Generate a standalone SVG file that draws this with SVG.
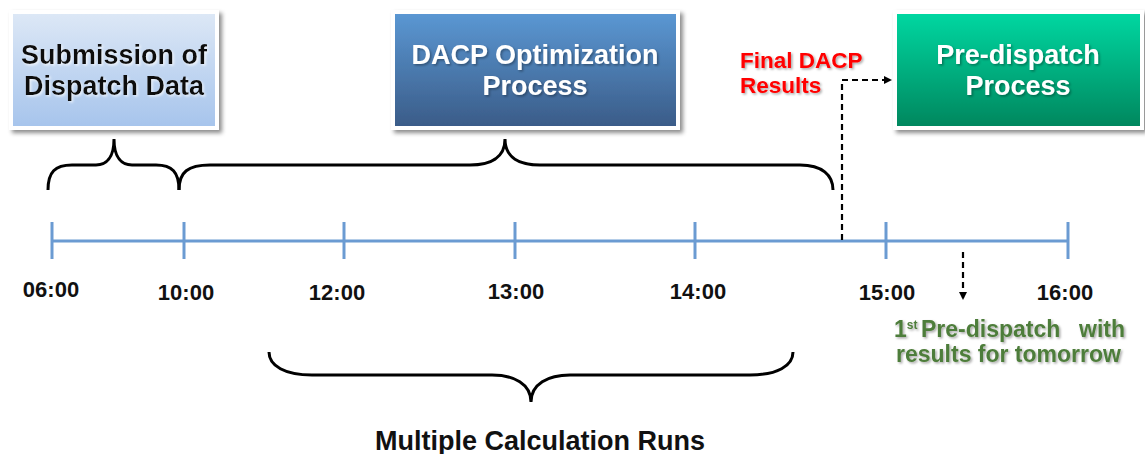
<svg xmlns="http://www.w3.org/2000/svg" width="1145" height="454" viewBox="0 0 1145 454">
<style>
  text { font-family: "Liberation Sans", Arial, sans-serif; font-weight: bold; }
  .box { stroke: #ffffff; stroke-width: 4; filter: url(#shadow); }
  .title { font-size: 27px; text-anchor: middle; }
  .dark { fill: #111111; filter: url(#tshadowLight); }
  .light { fill: #ffffff; filter: url(#tshadowDark); }
  .time { font-size: 22px; text-anchor: middle; fill: #111111; }
  .axis { stroke: #6b9bd2; stroke-width: 3; fill: none; }
  .brace { stroke: #000000; stroke-width: 3; fill: none; }
  .dash { stroke: #000000; stroke-width: 2.2; fill: none; stroke-dasharray: 6 4; }
  .red { font-size: 22.5px; fill: #ff0000; filter: url(#tshadowDark); }
  .green { font-size: 23px; fill: #4e7d3a; filter: url(#tshadowDark); }
  .runs { font-size: 27px; text-anchor: middle; fill: #111111; }
</style>
<defs>
  <linearGradient id="gBlueLight" x1="0" y1="0" x2="0" y2="1">
    <stop offset="0" stop-color="#dde8f6"/>
    <stop offset="1" stop-color="#a6c4ec"/>
  </linearGradient>
  <linearGradient id="gBlueDark" x1="0" y1="0" x2="0" y2="1">
    <stop offset="0" stop-color="#5b98d4"/>
    <stop offset="1" stop-color="#3a5b87"/>
  </linearGradient>
  <linearGradient id="gGreen" x1="0" y1="0" x2="0" y2="1">
    <stop offset="0" stop-color="#00d8a2"/>
    <stop offset="1" stop-color="#00865d"/>
  </linearGradient>
  <filter id="shadow" x="-10%" y="-10%" width="125%" height="130%">
    <feDropShadow dx="3" dy="3" stdDeviation="2" flood-color="#000000" flood-opacity="0.45"/>
  </filter>
  <filter id="tshadowDark" x="-5%" y="-20%" width="115%" height="150%">
    <feDropShadow dx="1.5" dy="1.5" stdDeviation="0.8" flood-color="#000000" flood-opacity="0.35"/>
  </filter>
  <filter id="tshadowLight" x="-5%" y="-20%" width="115%" height="150%">
    <feDropShadow dx="1.5" dy="1.5" stdDeviation="0.8" flood-color="#ffffff" flood-opacity="0.7"/>
  </filter>
  <marker id="arrow" viewBox="0 0 10 10" refX="10" refY="5" markerWidth="9" markerHeight="8" orient="auto" markerUnits="userSpaceOnUse">
    <path d="M0,0 L10,5 L0,10 z" fill="#000000"/>
  </marker>
</defs>

<g id="node-submission">
  <rect class="box" x="11" y="12" width="206" height="116" fill="url(#gBlueLight)"/>
  <text class="title dark" x="114" y="64">Submission of</text>
  <text class="title dark" x="114" y="95">Dispatch Data</text>
</g>

<g id="node-dacp">
  <rect class="box" x="393" y="12" width="285" height="116" fill="url(#gBlueDark)"/>
  <text class="title light" x="535" y="64">DACP Optimization</text>
  <text class="title light" x="535" y="95">Process</text>
</g>

<g id="node-predispatch">
  <rect class="box" x="895" y="12" width="247" height="116" fill="url(#gGreen)"/>
  <text class="title light" x="1018" y="64">Pre-dispatch</text>
  <text class="title light" x="1018" y="95">Process</text>
</g>

<g id="timeline">
  <line class="axis" x1="52" y1="241" x2="1068" y2="241"/>
  <line class="axis" x1="52" y1="222" x2="52" y2="259"/>
  <line class="axis" x1="184" y1="222" x2="184" y2="259"/>
  <line class="axis" x1="344" y1="222" x2="344" y2="259"/>
  <line class="axis" x1="515" y1="222" x2="515" y2="259"/>
  <line class="axis" x1="695" y1="222" x2="695" y2="259"/>
  <line class="axis" x1="886" y1="222" x2="886" y2="259"/>
  <line class="axis" x1="1068" y1="222" x2="1068" y2="259"/>
  <text class="time" x="51" y="297">06:00</text>
  <text class="time" x="186" y="300">10:00</text>
  <text class="time" x="337" y="300">12:00</text>
  <text class="time" x="516" y="299">13:00</text>
  <text class="time" x="698" y="299">14:00</text>
  <text class="time" x="887" y="300">15:00</text>
  <text class="time" x="1065" y="300">16:00</text>
</g>

<g id="braces">
  <path class="brace" d="M48,190 C48,172 55,165 72,165 L96,165 C106,165 114,158 114,139 C114,158 122,165 132,165 L156,165 C172,165 179,172 179,190"/>
  <path class="brace" d="M179,190 C179,172 188,165 210,165 L470,165 C490,165 505,158 505,139 C505,158 520,165 540,165 L800,165 C822,165 833,175 833,190"/>
  <path class="brace" d="M269,352 C269,366 285,375 312,375 L492,375 C514,375 531,384 531,402 C531,384 548,375 570,375 L750,375 C777,375 793,366 793,352"/>
</g>

<g id="connectors">
  <path class="dash" d="M842,240 L842,80 L892,80" marker-end="url(#arrow)"/>
  <path class="dash" d="M963,252 L963,300" marker-end="url(#arrow)"/>
</g>

<g id="labels">
  <text class="red" x="740" y="68">Final DACP</text>
  <text class="red" x="740" y="93">Results</text>
  <text class="green" x="894" y="337">1<tspan font-size="12" dy="-8">st</tspan></text>
  <text class="green" x="921" y="337">Pre-dispatch</text>
  <text class="green" x="1079" y="337">with</text>
  <text class="green" x="896" y="362">results for tomorrow</text>
  <text class="runs" x="540" y="450">Multiple Calculation Runs</text>
</g>
</svg>
